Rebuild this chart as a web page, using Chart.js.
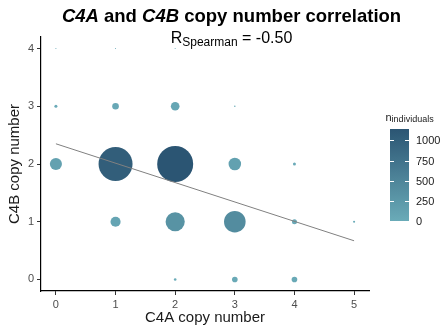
<!DOCTYPE html>
<html>
<head>
<meta charset="utf-8">
<script src="https://cdn.jsdelivr.net/npm/chart.js@4/dist/chart.umd.min.js"></script>
<style>
  html, body { margin: 0; padding: 0; background: #ffffff; }
  #wrap { width: 443px; height: 329px; }
</style>
</head>
<body>
<div id="wrap"><canvas id="c" width="443" height="329"></canvas></div>
<script>
// Copy-number combinations and how many individuals carry each one
const c4aCopies   = [0, 1, 2,   0,  1,  2, 3,   0,    1,    2,   3, 4,   1,   2,   3,  4, 5,   2,  3,  4];
const c4bCopies   = [4, 4, 4,   3,  3,  3, 3,   2,    2,    2,   2, 2,   1,   1,   1,  1, 1,   0,  0,  0];
const individuals = [1, 1, 1,   8, 39, 66, 2, 129, 1017, 1140, 138, 8,  90, 323, 410, 22, 4,   6, 28, 28];

// Axis ticks and colour-bar breaks
const xTicks = [0, 1, 2, 3, 4, 5];
const yTicks = [0, 1, 2, 3, 4];
const colourBreaks = [0, 250, 500, 750, 1000];

// Linear fit drawn across the C4A range
const fitX = [0, 5];
const fitY = [2.35, 0.67];
const spearmanR = '-0.50';

const FONT = "'Liberation Sans', Arial, Helvetica, sans-serif";
const LOW = [106, 171, 184];
const HIGH = [43, 85, 115];
const nMin = Math.min(...individuals);
const nMax = Math.max(...individuals);
const MAX_RADIUS = 18;

function colourFor(n) {
  const t = (n - nMin) / (nMax - nMin);
  const c = LOW.map((lo, i) => Math.round(lo + (HIGH[i] - lo) * t));
  return `rgb(${c[0]},${c[1]},${c[2]})`;
}
function radiusFor(n) {
  return MAX_RADIUS * Math.sqrt(n / nMax);
}

const bubbles = c4aCopies.map((x, i) => ({
  x: x, y: c4bCopies[i], r: radiusFor(individuals[i]), n: individuals[i]
}));
const fitLine = fitX.map((x, i) => ({ x: x, y: fitY[i] }));

// Title, subtitle and colour-bar legend
const annotations = {
  id: 'annotations',
  afterDraw(chart) {
    const ctx = chart.ctx;
    ctx.save();
    ctx.textBaseline = 'alphabetic';
    ctx.fillStyle = '#000000';

    // Title with italic gene names
    const parts = [
      ['C4A', 'italic bold'], [' and ', 'bold'], ['C4B', 'italic bold'], [' copy number correlation', 'bold']
    ];
    const tSize = 18.5;
    let total = 0;
    parts.forEach(p => { ctx.font = `${p[1]} ${tSize}px ${FONT}`; total += ctx.measureText(p[0]).width; });
    let x = 231.5 - total / 2;
    parts.forEach(p => {
      ctx.font = `${p[1]} ${tSize}px ${FONT}`;
      ctx.fillText(p[0], x, 22);
      x += ctx.measureText(p[0]).width;
    });

    // Subtitle: R_Spearman = value
    const sub = [['R', 16, 0], ['Spearman', 12, 3], [' = ' + spearmanR, 16, 0]];
    total = 0;
    sub.forEach(p => { ctx.font = `${p[1]}px ${FONT}`; total += ctx.measureText(p[0]).width; });
    x = 231.5 - total / 2;
    sub.forEach(p => {
      ctx.font = `${p[1]}px ${FONT}`;
      ctx.fillText(p[0], x, 43 + p[2]);
      x += ctx.measureText(p[0]).width;
    });

    // Colour bar
    const bx = 390, bw = 19, top = 129, bottom = 221;
    const grad = ctx.createLinearGradient(0, bottom, 0, top);
    for (let k = 0; k <= 10; k++) {
      grad.addColorStop(k / 10, colourFor(nMin + (nMax - nMin) * k / 10));
    }
    ctx.fillStyle = grad;
    ctx.fillRect(bx, top, bw, bottom - top);

    ctx.font = `11px ${FONT}`;
    ctx.textBaseline = 'middle';
    ctx.textAlign = 'left';
    colourBreaks.forEach(v => {
      const y = Math.round(bottom - (v - nMin) / (nMax - nMin) * (bottom - top)) + 0.5;
      ctx.strokeStyle = '#ffffff';
      ctx.lineWidth = 1;
      ctx.beginPath();
      ctx.moveTo(bx, y); ctx.lineTo(bx + 4, y);
      ctx.moveTo(bx + bw - 4, y); ctx.lineTo(bx + bw, y);
      ctx.stroke();
      ctx.fillStyle = '#1a1a1a';
      ctx.fillText(String(v), 416, y);
    });

    // Legend title n_individuals
    ctx.textBaseline = 'alphabetic';
    ctx.fillStyle = '#1a1a1a';
    ctx.font = `11px ${FONT}`;
    ctx.fillText('n', 385.5, 120.5);
    const nw = ctx.measureText('n').width;
    ctx.font = `9px ${FONT}`;
    ctx.fillText('individuals', 385.5 + nw, 122);
    ctx.restore();
  }
};

new Chart(document.getElementById('c'), {
  type: 'bubble',
  data: {
    datasets: [
      {
        type: 'line',
        data: fitLine,
        borderColor: '#808080',
        borderWidth: 1,
        pointRadius: 0,
        fill: false,
        order: 0
      },
      {
        data: bubbles,
        backgroundColor: ctx => colourFor(ctx.raw ? ctx.raw.n : nMin),
        borderWidth: 0,
        order: 1
      }
    ]
  },
  options: {
    responsive: false,
    animation: false,
    devicePixelRatio: 1,
    layout: { padding: { top: 37, right: 74, left: 0, bottom: 0 } },
    plugins: { legend: { display: false }, tooltip: { enabled: false } },
    scales: {
      x: {
        type: 'linear',
        min: -0.25, max: 5.25,
        afterBuildTicks: s => { s.ticks = xTicks.map(v => ({ value: v })); },
        afterFit: s => { s.height = 38; },
        ticks: { color: '#4d4d4d', font: { family: FONT, size: 11 }, padding: 3, maxRotation: 0, autoSkip: false },
        grid: { display: true, drawOnChartArea: false, drawTicks: true, tickLength: 4, color: '#333333', lineWidth: 1 },
        border: { display: true, color: '#000000', width: 1.2 },
        title: { display: true, text: 'C4A copy number', color: '#1a1a1a', font: { family: FONT, size: 15 }, padding: { top: 0, bottom: 2 } }
      },
      y: {
        type: 'linear',
        min: -0.2, max: 4.2,
        afterBuildTicks: s => { s.ticks = yTicks.map(v => ({ value: v })); },
        afterFit: s => { s.width = 41; },
        ticks: { color: '#4d4d4d', font: { family: FONT, size: 11 }, padding: 3, autoSkip: false },
        grid: { display: true, drawOnChartArea: false, drawTicks: true, tickLength: 4, color: '#333333', lineWidth: 1 },
        border: { display: true, color: '#000000', width: 1.2 },
        title: { display: true, text: 'C4B copy number', color: '#1a1a1a', font: { family: FONT, size: 15 }, padding: { top: 6, bottom: 0 } }
      }
    }
  },
  plugins: [annotations]
});
</script>
</body>
</html>
